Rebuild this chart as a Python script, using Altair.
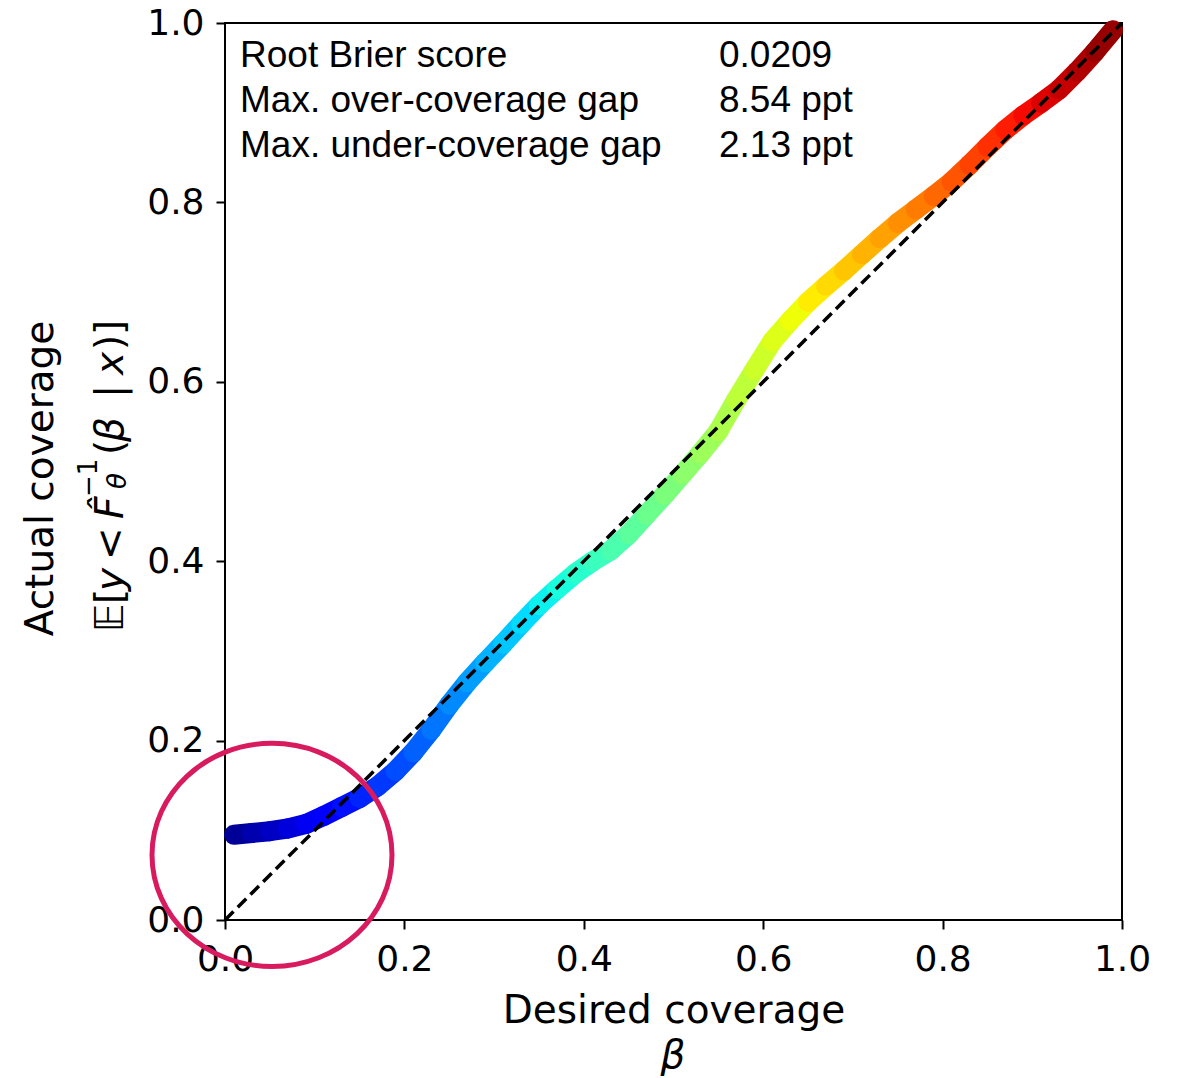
import altair as alt
import pandas as pd

# ---- data ----
BETA = [0.01, 0.03, 0.05, 0.07, 0.09, 0.11, 0.13, 0.15, 0.17, 0.19,
        0.21, 0.23, 0.25, 0.27, 0.29, 0.31, 0.33, 0.35, 0.37, 0.39,
        0.41, 0.43, 0.45, 0.47, 0.49, 0.51, 0.53, 0.55, 0.57, 0.59,
        0.61, 0.63, 0.65, 0.67, 0.69, 0.71, 0.73, 0.75, 0.77, 0.79,
        0.81, 0.83, 0.85, 0.87, 0.89, 0.91, 0.93, 0.95, 0.97, 0.99]
COVERAGE = [0.095, 0.097, 0.099, 0.102, 0.107, 0.116, 0.126, 0.136, 0.149, 0.166,
            0.187, 0.212, 0.240, 0.265, 0.287, 0.308, 0.330, 0.351, 0.369, 0.386,
            0.400, 0.412, 0.430, 0.452, 0.474, 0.497, 0.520, 0.545, 0.580, 0.613,
            0.645, 0.668, 0.689, 0.707, 0.724, 0.742, 0.760, 0.777, 0.792, 0.807,
            0.823, 0.842, 0.862, 0.881, 0.897, 0.911, 0.926, 0.946, 0.968, 0.992]
DIAG = [0.0, 1.0]
TICKS = [0.0, 0.2, 0.4, 0.6, 0.8, 1.0]
STAT_NAMES = ["Root Brier score", "Max. over-coverage gap", "Max. under-coverage gap"]
STAT_VALUES = ["0.0209", "8.54 ppt", "2.13 ppt"]
HIGHLIGHT_X = [0.0524]
HIGHLIGHT_Y = [0.0725]

# jet colormap stops
JET_DOMAIN = [0, 0.11, 0.125, 0.34, 0.375, 0.64, 0.66, 0.89, 0.91, 1]
JET_RANGE = ["#000080", "#0000ff", "#0000ff", "#00dbff", "#15ffe2",
             "#eeff08", "#ffec00", "#ff1300", "#e80000", "#800000"]

W = H = 897
FONT = "DejaVu Sans"

seg = pd.DataFrame({
    "beta": BETA[:-1], "cov": COVERAGE[:-1],
    "beta2": BETA[1:], "cov2": COVERAGE[1:],
})
seg["mid"] = (seg["beta"] + seg["beta2"]) / 2

xs = alt.Scale(domain=[0, 1], nice=False, zero=False)
ys = alt.Scale(domain=[0, 1], nice=False, zero=False)

x_axis = alt.Axis(values=TICKS, format=".1f", title="Desired coverage",
                  titleFont=FONT, titleFontSize=39, titleFontWeight="normal",
                  titleColor="black", titleY=102, titleBaseline="alphabetic",
                  labelFont=FONT, labelFontSize=36, labelColor="black",
                  labelPadding=13, labelFlush=False, labelOverlap=False,
                  tickSize=9, tickWidth=2, tickColor="black",
                  domain=False, grid=False)
y_axis = alt.Axis(values=TICKS, format=".1f", title="Actual coverage",
                  titleFont=FONT, titleFontSize=39, titleFontWeight="normal",
                  titleColor="black", titleAngle=270, titleX=-173, titleY=455,
                  titleAlign="center", titleBaseline="alphabetic",
                  labelFont=FONT, labelFontSize=36, labelColor="black",
                  labelPadding=12, labelFlush=False, labelOverlap=False,
                  tickSize=9, tickWidth=2, tickColor="black",
                  domain=False, grid=False)

curve = alt.Chart(seg).mark_rule(strokeWidth=20, strokeCap="round").encode(
    x=alt.X("beta:Q", scale=xs, axis=x_axis),
    y=alt.Y("cov:Q", scale=ys, axis=y_axis),
    x2="beta2:Q",
    y2="cov2:Q",
    color=alt.Color("mid:Q", scale=alt.Scale(domain=JET_DOMAIN, range=JET_RANGE,
                                             interpolate="rgb"), legend=None),
)

diag_df = pd.DataFrame({"x": [DIAG[0]], "y": [DIAG[0]], "x2": [DIAG[1]], "y2": [DIAG[1]]})
diag = alt.Chart(diag_df).mark_rule(color="black", strokeWidth=3.5, strokeDash=[12, 6]).encode(
    x=alt.X("x:Q", scale=xs), y=alt.Y("y:Q", scale=ys), x2="x2:Q", y2="y2:Q")

ELLIPSE = "M -1 0 A 1 0.93 0 1 0 1 0 A 1 0.93 0 1 0 -1 0 Z"
hl_df = pd.DataFrame({"x": HIGHLIGHT_X, "y": HIGHLIGHT_Y})
highlight = alt.Chart(hl_df).mark_point(
    shape=ELLIPSE, size=57600, filled=False, stroke="#D81B5E",
    strokeWidth=5, opacity=1).encode(
    x=alt.X("x:Q", scale=xs), y=alt.Y("y:Q", scale=ys))

stats_df = pd.DataFrame({"names": ["\n".join(STAT_NAMES)], "vals": ["\n".join(STAT_VALUES)]})
stats_names = alt.Chart(stats_df).mark_text(
    font="Liberation Sans", fontSize=37, align="left", baseline="alphabetic",
    lineBreak="\n", lineHeight=45, color="black").encode(
    x=alt.value(15), y=alt.value(44), text="names:N")
stats_vals = alt.Chart(stats_df).mark_text(
    font="Liberation Sans", fontSize=37, align="left", baseline="alphabetic",
    lineBreak="\n", lineHeight=45, color="black").encode(
    x=alt.value(494), y=alt.value(44), text="vals:N")


def piece(txt, ystart, xbase, size=39, italic=False):
    kw = dict(font=FONT, fontSize=size, align="left", baseline="alphabetic",
              angle=270, color="black")
    if italic:
        kw["fontStyle"] = "italic"
    return alt.Chart(pd.DataFrame({"t": [txt]})).mark_text(**kw).encode(
        x=alt.value(xbase - 225), y=alt.value(ystart - 23), text="t:N")


BASE = 123
ytitle2 = [
    piece("𝔼", 632, BASE, italic=True),
    piece("[", 604, BASE),
    piece("y", 591, BASE, italic=True),
    piece("<", 560, BASE),
    piece("F̂", 519, BASE, italic=True),
    piece("θ", 489, 126, size=26, italic=True),
    piece("−1", 497, 97, size=26),
    piece("(", 455, BASE),
    piece("β", 442, BASE, italic=True),
    piece("|", 398, BASE),
    piece("x", 375, BASE, italic=True),
    piece(")", 350, BASE),
    piece("]", 335, BASE),
]

beta_label = alt.Chart(pd.DataFrame({"t": ["β"]})).mark_text(
    font=FONT, fontSize=39, fontStyle="italic", align="center",
    baseline="alphabetic", color="black").encode(
    x=alt.value(673 - 225), y=alt.value(1068 - 23), text="t:N")

chart = alt.layer(curve, diag, stats_names, stats_vals, highlight, beta_label, *ytitle2).properties(
    width=W, height=H,
    background="white",
    autosize=alt.AutoSizeParams(type="none"),
    padding={"left": 225, "top": 23, "right": 57, "bottom": 158},
).configure_view(stroke="black", strokeWidth=2)

chart.save("out.html", embed_options={"renderer": "svg", "actions": False})
